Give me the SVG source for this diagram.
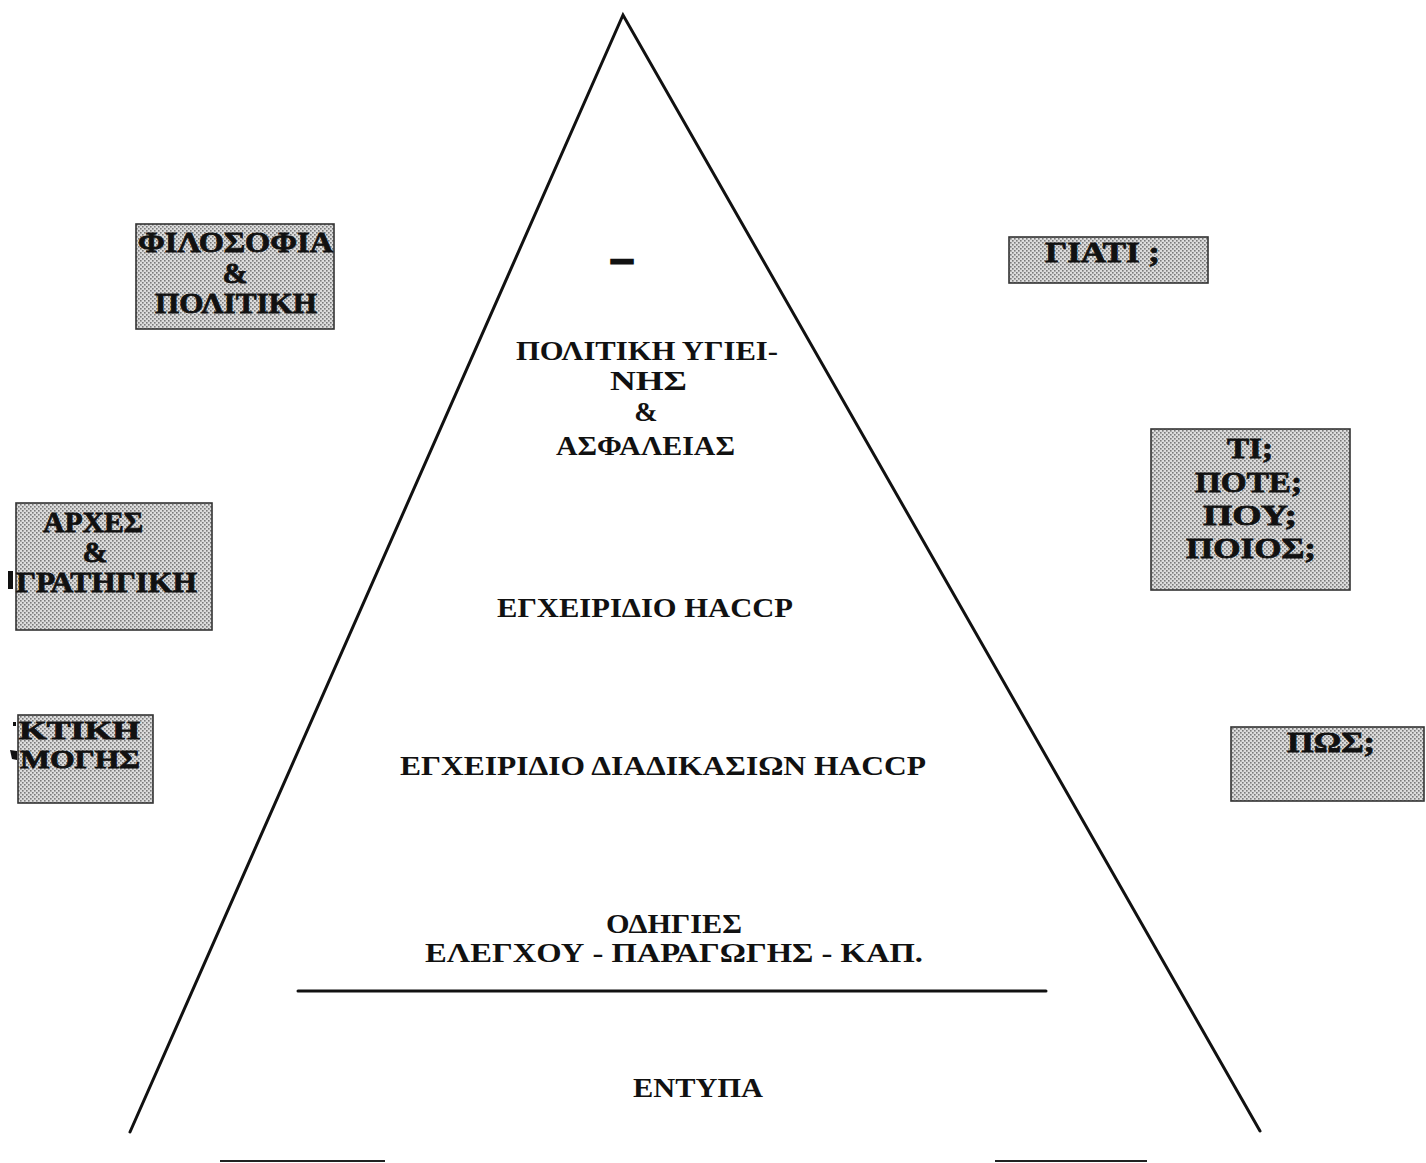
<svg xmlns="http://www.w3.org/2000/svg" width="1426" height="1163" viewBox="0 0 1426 1163">
  <style>
    .lbl { font-family: "Liberation Serif", "Times New Roman", serif; font-weight: bold; fill: #111; }
    .c { text-anchor: middle; }
    .s { text-anchor: start; }
    .tri { font-size: 28px; }
    .box { font-size: 30px; stroke: #111; stroke-width: 0.8px; }
    .shade { fill: url(#dots); stroke: #333; stroke-width: 1.6; }
    .edge { fill: none; stroke: #111; stroke-width: 3; stroke-linecap: round; }
  </style>
  <defs>
    <pattern id="dots" width="4" height="4" patternUnits="userSpaceOnUse">
      <rect width="4" height="4" fill="#dcdcdc"/>
      <rect x="0" y="0" width="1.6" height="1.6" fill="#7a7a7a"/>
      <rect x="2" y="2" width="1.6" height="1.6" fill="#7a7a7a"/>
    </pattern>
  </defs>
  <rect width="1426" height="1163" fill="#ffffff"/>

  <!-- pyramid outline and dividers -->
  <g id="connectors">
    <polyline class="edge" points="130,1132 623,15 1260,1131"/>
    <line class="edge" x1="298" y1="991" x2="1046" y2="991"/>
    <line x1="220" y1="1161" x2="385" y2="1161" stroke="#222" stroke-width="2"/>
    <line x1="995" y1="1161" x2="1147" y2="1161" stroke="#222" stroke-width="2"/>
  </g>

  <!-- pyramid levels -->
  <g id="level-top">
    <text class="lbl c" x="622" y="271" style="font-size:40px;stroke:#111;stroke-width:3px">–</text>
  </g>
  <g id="level-policy">
    <text class="lbl tri s" x="516" y="360" textLength="262" lengthAdjust="spacingAndGlyphs">ΠΟΛΙΤΙΚΗ ΥΓΙΕΙ-</text>
    <text class="lbl tri s" x="610" y="390" textLength="77" lengthAdjust="spacingAndGlyphs">ΝΗΣ</text>
    <text class="lbl tri c" x="646" y="421">&amp;</text>
    <text class="lbl tri s" x="556" y="455" textLength="179" lengthAdjust="spacingAndGlyphs">ΑΣΦΑΛΕΙΑΣ</text>
  </g>
  <g id="level-manual">
    <text class="lbl tri s" x="497" y="617" textLength="296" lengthAdjust="spacingAndGlyphs">ΕΓΧΕΙΡΙΔΙΟ HACCP</text>
  </g>
  <g id="level-procedures">
    <text class="lbl tri s" x="400" y="775" textLength="526" lengthAdjust="spacingAndGlyphs">ΕΓΧΕΙΡΙΔΙΟ ΔΙΑΔΙΚΑΣΙΩΝ HACCP</text>
  </g>
  <g id="level-instructions">
    <text class="lbl tri s" x="606" y="933" textLength="136" lengthAdjust="spacingAndGlyphs">ΟΔΗΓΙΕΣ</text>
    <text class="lbl tri s" x="425" y="962" textLength="498" lengthAdjust="spacingAndGlyphs">ΕΛΕΓΧΟΥ - ΠΑΡΑΓΩΓΗΣ - ΚΑΠ.</text>
  </g>
  <g id="level-forms">
    <text class="lbl tri s" x="633" y="1097" textLength="130" lengthAdjust="spacingAndGlyphs">ΕΝΤΥΠΑ</text>
  </g>

  <!-- left side boxes -->
  <g id="box-philosophy">
    <rect class="shade" x="136" y="224" width="198" height="105"/>
    <text class="lbl box s" x="138" y="252" textLength="195" lengthAdjust="spacingAndGlyphs">ΦΙΛΟΣΟΦΙΑ</text>
    <text class="lbl box c" x="235" y="283">&amp;</text>
    <text class="lbl box s" x="155" y="313" textLength="162" lengthAdjust="spacingAndGlyphs">ΠΟΛΙΤΙΚΗ</text>
  </g>
  <g id="box-strategy">
    <rect class="shade" x="16" y="503" width="196" height="127"/>
    <text class="lbl box s" x="43" y="532" textLength="100" lengthAdjust="spacingAndGlyphs">ΑΡΧΕΣ</text>
    <text class="lbl box c" x="95" y="562">&amp;</text>
    <rect x="8" y="571" width="5" height="18" fill="#111"/>
    <text class="lbl box s" x="16" y="592" textLength="181" lengthAdjust="spacingAndGlyphs">ΓΡΑΤΗΓΙΚΗ</text>
  </g>
  <g id="box-practice">
    <rect class="shade" x="18" y="715" width="135" height="88"/>
    <rect x="13" y="722" width="3" height="4" fill="#111"/>
    <text class="lbl box s" x="19" y="739" textLength="121" lengthAdjust="spacingAndGlyphs" style="font-size:25px">ΚΤΙΚΗ</text>
    <path d="M10,750 L17,751 L17,760 L12,759 Z" fill="#111"/>
    <text class="lbl box s" x="20" y="768" textLength="120" lengthAdjust="spacingAndGlyphs" style="font-size:25px">ΜΟΓΗΣ</text>
  </g>

  <!-- right side boxes -->
  <g id="box-why">
    <rect class="shade" x="1009" y="237" width="199" height="46"/>
    <text class="lbl box s" x="1045" y="262" textLength="115" lengthAdjust="spacingAndGlyphs">ΓΙΑΤΙ ;</text>
  </g>
  <g id="box-what">
    <rect class="shade" x="1151" y="429" width="199" height="161"/>
    <text class="lbl box s" x="1227" y="458" textLength="46" lengthAdjust="spacingAndGlyphs">ΤΙ;</text>
    <text class="lbl box s" x="1195" y="492" textLength="107" lengthAdjust="spacingAndGlyphs">ΠΟΤΕ;</text>
    <text class="lbl box s" x="1203" y="525" textLength="94" lengthAdjust="spacingAndGlyphs">ΠΟΥ;</text>
    <text class="lbl box s" x="1186" y="558" textLength="130" lengthAdjust="spacingAndGlyphs">ΠΟΙΟΣ;</text>
  </g>
  <g id="box-how">
    <rect class="shade" x="1231" y="727" width="193" height="74"/>
    <text class="lbl box s" x="1287" y="752" textLength="88" lengthAdjust="spacingAndGlyphs">ΠΩΣ;</text>
  </g>
</svg>
